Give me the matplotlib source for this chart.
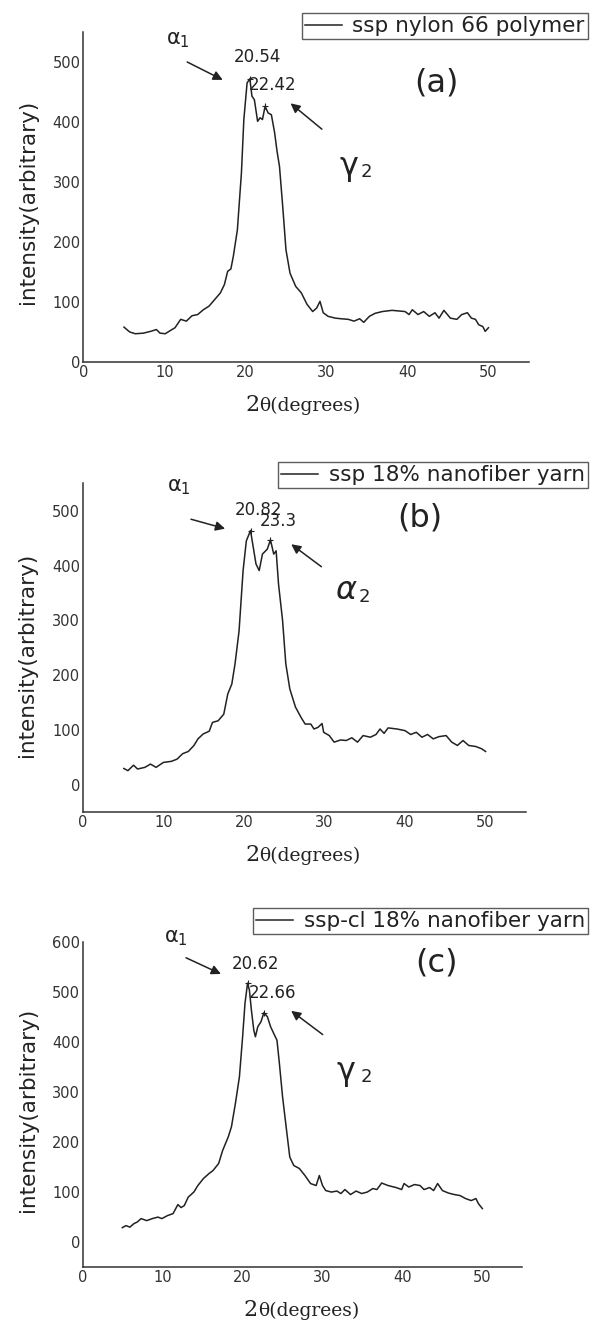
import matplotlib.pyplot as plt

plt.rcParams['font.family'] = ['DejaVu Sans']
plt.rcParams['mathtext.fontset'] = 'dejavusans'

# panel (a) ssp nylon 66 polymer
x_a = [5.0, 5.7, 6.4, 7.4, 8.3, 9.0, 9.45, 10.1, 10.8, 11.3, 12.0, 12.7, 13.4, 14.1, 14.8,
       15.5, 16.2, 16.9, 17.4, 17.8, 18.2, 18.5, 19.0, 19.5, 19.8, 20.2, 20.54, 20.8, 21.1,
       21.5, 21.8, 22.1, 22.42, 22.8, 23.2, 23.6, 23.9, 24.2, 24.6, 25.0, 25.5, 26.2, 26.9,
       27.6, 28.3, 28.8, 29.2, 29.6, 30.2, 31.1, 31.8, 32.7, 33.4, 34.1, 34.6, 35.3, 36.0,
       36.9, 38.1, 39.7, 40.2, 40.6, 41.3, 42.0, 42.7, 43.4, 43.9, 44.5, 45.3, 46.1, 46.7,
       47.4, 47.9, 48.4, 48.8, 49.3, 49.6, 50.0]
y_a = [58, 50, 47, 48, 51, 54, 48, 47, 53, 57, 71, 68, 77, 79, 87,
       93, 104, 115, 129, 151, 155, 176, 220, 315, 404, 465, 472, 443, 437,
       401, 407, 404, 426, 415, 412, 382, 351, 326, 259, 187, 148, 126, 115,
       96, 84, 90, 101, 82, 76, 73, 72, 71, 68, 72, 66, 76, 81,
       84, 86, 84, 79, 87, 79, 84, 76, 82, 73, 86, 73, 71, 79,
       82, 73, 71, 62, 59, 51, 57]

# panel (b) ssp 18% nanofiber yarn
x_b = [5.1, 5.6, 6.3, 6.8, 7.7, 8.4, 9.1, 10.0, 11.0, 11.7, 12.4, 13.1, 13.8, 14.3, 14.95,
       15.7, 16.1, 16.8, 17.5, 18.0, 18.5, 18.9, 19.4, 19.9, 20.3, 20.82, 21.1, 21.5, 21.9,
       22.3, 22.9, 23.3, 23.7, 24.0, 24.3, 24.8, 25.2, 25.7, 26.4, 27.1, 27.6, 28.3, 28.7,
       29.2, 29.7, 29.9, 30.6, 31.2, 32.0, 32.7, 33.4, 34.1, 34.8, 35.7, 36.4, 36.9, 37.4,
       37.9, 39.0, 40.0, 40.7, 41.4, 42.1, 42.8, 43.5, 44.2, 45.1, 45.8, 46.5, 47.2, 47.9,
       48.8, 49.5, 50.0]
y_b = [30, 26, 36, 29, 32, 38, 32, 41, 43, 47, 57, 61, 72, 84, 93,
       98, 114, 117, 129, 166, 184, 221, 281, 391, 445, 464, 439, 403, 391,
       421, 430, 447, 421, 427, 366, 300, 221, 175, 142, 123, 111, 111, 102,
       105, 112, 96, 90, 78, 82, 81, 86, 78, 90, 87, 92, 102, 94,
       104, 102, 99, 92, 96, 87, 92, 84, 88, 90, 78, 72, 81, 72,
       70, 66, 61]

# panel (c) ssp-cl 18% nanofiber yarn
x_c = [4.95, 5.4, 5.9, 6.4, 6.8, 7.3, 8.0, 8.7, 9.4, 9.9, 10.6, 11.3, 11.9, 12.3, 12.7,
       13.2, 13.9, 14.4, 15.1, 15.8, 16.3, 17.0, 17.5, 18.2, 18.6, 19.1, 19.6, 20.0, 20.3,
       20.62, 20.85, 21.1, 21.4, 21.6, 21.9, 22.3, 22.66, 23.1, 23.5, 24.0, 24.3, 24.6, 25.0,
       25.5, 25.9, 26.4, 27.1, 27.8, 28.5, 29.2, 29.6, 30.0, 30.4, 31.1, 31.8, 32.3, 32.8,
       33.5, 34.2, 34.9, 35.6, 36.3, 36.8, 37.4, 38.2, 39.2, 39.9, 40.2, 40.8, 41.5, 42.2,
       42.7, 43.4, 43.9, 44.4, 45.0, 45.75, 46.5, 47.2, 47.9, 48.6, 49.2, 49.5, 50.0]
y_c = [29, 33, 30, 37, 40, 47, 43, 47, 50, 47, 53, 57, 75, 69, 73,
       90, 100, 113, 127, 137, 143, 157, 183, 210, 230, 277, 330, 410, 477,
       517, 503, 463, 423, 410, 430, 440, 458, 450, 430, 413, 403, 357, 290,
       223, 170, 153, 147, 133, 117, 113, 133, 113, 103, 100, 102, 97, 105,
       95, 102, 97, 100, 107, 105, 118, 113, 109, 105, 117, 110, 115, 113,
       105, 109, 103, 117, 103, 98, 95, 93, 87, 83, 87, 77, 67]

xs = [x_a, x_b, x_c]
ys = [y_a, y_b, y_c]
labels = ['ssp nylon 66 polymer', 'ssp 18% nanofiber yarn', 'ssp-cl 18% nanofiber yarn']
panel_tags = ['(a)', '(b)', '(c)']
peak_x = [[20.54, 22.42], [20.82, 23.3], [20.62, 22.66]]
peak_y = [[472, 426], [464, 447], [517, 458]]
peak_text = [['20.54', '22.42'], ['20.82', '23.3'], ['20.62', '22.66']]
second_phase = ['γ', r'$\alpha$', 'γ']
y_limits = [(0, 550), (-50, 550), (-50, 600)]
y_tick_max = [500, 500, 600]

# layout (pixels measured on the reference)
boxes = [[0.1415, 0.7258, 0.755, 0.25],
         [0.1403, 0.3846, 0.751, 0.2492],
         [0.1403, 0.0400, 0.745, 0.2467]]
legend_top = [13, 462, 908]
ylabel_y = [0.486, 0.478, 0.483]
xlabel_split = [0.395, 0.399, 0.398]
peak_lab_pos = [[(21.45, 508), (23.4, 462)], [(21.8, 502), (24.3, 482)], [(21.6, 555), (23.7, 498)]]
a1_pos = [(11.6, 537), (11.9, 543), (11.7, 608)]
a1_arrow = [((12.5, 502), (17.5, 468)), ((13.1, 486), (18.0, 466)), ((12.6, 570), (17.6, 533))]
p2_arrow = [((29.7, 385), (25.3, 434)), ((29.9, 395), (25.6, 442)), ((30.3, 411), (25.8, 465))]
p2_pos = [(32.8, 325), (32.7, 355), (32.9, 341)]
p2_sub = [(34.9, 317), (34.9, 343), (35.5, 330)]
tag_pos = [(43.6, 465), (41.8, 486), (44.2, 558)]

ink = '#222222'
fig = plt.figure(figsize=(5.9, 13.2), dpi=100)

for i in range(3):
    ax = fig.add_axes(boxes[i])
    line, = ax.plot(xs[i], ys[i], color=ink, lw=1.1)
    ax.plot(peak_x[i], peak_y[i], '+', color=ink, ms=5, mew=0.8)

    ax.set_xlim(0, 55)
    ax.set_ylim(*y_limits[i])
    ax.set_xticks(range(0, 51, 10))
    ax.set_yticks(range(0, y_tick_max[i] + 1, 100))
    ax.tick_params(length=0, labelsize=10.5, colors='#333333', pad=2)
    for s in ['top', 'right']:
        ax.spines[s].set_visible(False)
    for s in ['left', 'bottom']:
        ax.spines[s].set_color('#333333')
        ax.spines[s].set_linewidth(1.1)

    ax.set_ylabel('intensity(arbitrary)', fontsize=15.5, color=ink)
    ax.yaxis.set_label_coords(-0.103, ylabel_y[i])

    ax.annotate('2', xy=(xlabel_split[i], 0), xycoords='axes fraction',
                xytext=(0, -35), textcoords='offset points', ha='right', va='baseline',
                family='DejaVu Serif', fontsize=16, color=ink)
    ax.annotate('θ(degrees)', xy=(xlabel_split[i], 0), xycoords='axes fraction',
                xytext=(0, -35), textcoords='offset points', ha='left', va='baseline',
                family='DejaVu Serif', fontsize=13.5, color=ink)

    for (tx, ty), t in zip(peak_lab_pos[i], peak_text[i]):
        ax.text(tx, ty, t, ha='center', va='center', fontsize=12, color=ink)

    ax.text(*a1_pos[i], 'α$_1$', ha='center', va='center', fontsize=15, color=ink, clip_on=False)
    ax.annotate('', xy=a1_arrow[i][1], xytext=a1_arrow[i][0],
                arrowprops=dict(arrowstyle='-|>', color=ink, lw=1.1, mutation_scale=14))
    ax.annotate('', xy=p2_arrow[i][1], xytext=p2_arrow[i][0],
                arrowprops=dict(arrowstyle='-|>', color=ink, lw=1.1, mutation_scale=14))
    ax.text(*p2_pos[i], second_phase[i], ha='center', va='center', fontsize=23, color=ink)
    ax.text(*p2_sub[i], '2', ha='center', va='center', fontsize=13, color=ink)
    ax.text(*tag_pos[i], panel_tags[i], ha='center', va='center', fontsize=23, color=ink)

    leg = ax.legend([line], [labels[i]], loc='upper right',
                    bbox_to_anchor=(588 / 590, 1 - legend_top[i] / 1320),
                    bbox_transform=fig.transFigure, borderaxespad=0, fancybox=False,
                    fontsize=15.5, handlelength=1.7, handletextpad=0.5, borderpad=0.15,
                    frameon=True)
    leg.get_frame().set_edgecolor('#333333')
    leg.get_frame().set_linewidth(1.0)
    for t in leg.get_texts():
        t.set_color(ink)

fig.savefig('out.png', dpi=100)
